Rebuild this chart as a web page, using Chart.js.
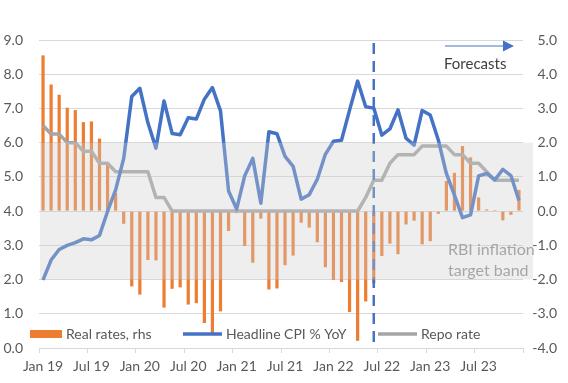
<!DOCTYPE html>
<html>
<head>
<meta charset="utf-8">
<script src="https://cdn.jsdelivr.net/npm/chart.js@4.4.1/dist/chart.umd.min.js"></script>
<style>
  html, body { margin: 0; padding: 0; background: #fff; }
  #wrap { width: 568px; height: 383px; }
</style>
</head>
<body>
<div id="wrap"><canvas id="chart" width="568" height="383"></canvas></div>
<script>
// month categories, Jan 19 .. Dec 23
const months = [
  "Jan 19","Feb 19","Mar 19","Apr 19","May 19","Jun 19","Jul 19","Aug 19","Sep 19","Oct 19","Nov 19","Dec 19",
  "Jan 20","Feb 20","Mar 20","Apr 20","May 20","Jun 20","Jul 20","Aug 20","Sep 20","Oct 20","Nov 20","Dec 20",
  "Jan 21","Feb 21","Mar 21","Apr 21","May 21","Jun 21","Jul 21","Aug 21","Sep 21","Oct 21","Nov 21","Dec 21",
  "Jan 22","Feb 22","Mar 22","Apr 22","May 22","Jun 22","Jul 22","Aug 22","Sep 22","Oct 22","Nov 22","Dec 22",
  "Jan 23","Feb 23","Mar 23","Apr 23","May 23","Jun 23","Jul 23","Aug 23","Sep 23","Oct 23","Nov 23","Dec 23"
];

// real rates, rhs (%)
const realRates = [
  4.55, 3.70, 3.40, 3.02, 2.95, 2.60, 2.62, 2.12, 1.41, 0.53, -0.37, -2.20,
  -2.44, -1.43, -1.44, -2.82, -2.27, -2.23, -2.73, -2.69, -3.27, -3.60, -2.93, -0.58,
  -0.06, -1.02, -1.51, -0.22, -2.29, -2.26, -1.58, -1.30, -0.34, -0.48, -0.91, -1.64,
  -2.01, -2.07, -2.95, -3.79, -2.64, -2.11, -1.31, -0.95, -1.26, -0.39, -0.28, -0.97,
  -0.88, -0.08, 0.88, 1.12, 1.90, 1.57, 0.40, 0.05, 0.03, -0.27, -0.11, 0.62
];

// headline CPI % YoY
const cpi = [
  1.99, 2.57, 2.88, 3.00, 3.08, 3.19, 3.16, 3.29, 3.99, 4.62, 5.54, 7.35,
  7.59, 6.58, 5.84, 7.22, 6.27, 6.23, 6.73, 6.69, 7.27, 7.61, 6.93, 4.59,
  4.06, 5.03, 5.54, 4.23, 6.32, 6.26, 5.60, 5.31, 4.35, 4.48, 4.93, 5.66,
  6.04, 6.07, 6.95, 7.80, 7.05, 7.01, 6.22, 6.40, 6.96, 6.13, 5.93, 6.94,
  6.81, 6.08, 5.10, 4.47, 3.81, 3.89, 5.03, 5.10, 4.91, 5.22, 5.04, 4.31
];

// repo rate
const repo = [
  6.50, 6.25, 6.25, 6.00, 6.00, 5.75, 5.75, 5.40, 5.40, 5.15, 5.15, 5.15,
  5.15, 5.15, 4.40, 4.40, 4.00, 4.00, 4.00, 4.00, 4.00, 4.00, 4.00, 4.00,
  4.00, 4.00, 4.00, 4.00, 4.00, 4.00, 4.00, 4.00, 4.00, 4.00, 4.00, 4.00,
  4.00, 4.00, 4.00, 4.00, 4.40, 4.90, 4.90, 5.40, 5.65, 5.65, 5.65, 5.90,
  5.90, 5.90, 5.90, 5.65, 5.65, 5.40, 5.40, 5.15, 4.90, 4.90, 4.90, 4.90
];

const forecastFrom = "Jun 22";
const targetBand = [2, 6]; // RBI band, lhs

const FONT = "Lato, 'Open Sans', sans-serif";
const TXT = "#595959";
const ORANGE = "#ED7D31", BLUE = "#4472C4", GREY = "#A5A5A5";

// band overlay, forecast marker and notes
const extras = {
  id: "extras",
  afterDatasetsDraw(chart) {
    const { ctx, chartArea: a, scales } = chart;
    const y = scales.y;
    ctx.save();
    // forecast divider
    const fx = scales.x.getPixelForValue(months.indexOf(forecastFrom));
    ctx.strokeStyle = BLUE;
    ctx.lineWidth = 2.5;
    ctx.setLineDash([11, 7]);
    ctx.beginPath();
    ctx.moveTo(fx, a.top + 3);
    ctx.lineTo(fx, a.bottom);
    ctx.stroke();
    ctx.setLineDash([]);
    // inflation target band
    const yTop = y.getPixelForValue(targetBand[1]);
    const yBot = y.getPixelForValue(targetBand[0]);
    ctx.fillStyle = "rgba(205,205,205,0.35)";
    ctx.fillRect(a.left + 1, yTop, a.right + 10 - a.left - 1, yBot - yTop);
    ctx.fillStyle = "#A6A6A6";
    ctx.font = "16px " + FONT;
    ctx.textBaseline = "middle";
    ctx.textAlign = "left";
    ctx.fillText("RBI inflation", 448, 250);
    ctx.fillText("target band", 448, 271);
    // forecasts arrow
    ctx.strokeStyle = BLUE;
    ctx.fillStyle = BLUE;
    ctx.lineWidth = 1;
    ctx.beginPath();
    ctx.moveTo(445, 46);
    ctx.lineTo(505, 46);
    ctx.stroke();
    ctx.beginPath();
    ctx.moveTo(503, 40.5);
    ctx.lineTo(514, 46);
    ctx.lineTo(503, 51.5);
    ctx.closePath();
    ctx.fill();
    ctx.fillStyle = "#404040";
    ctx.font = "15px " + FONT;
    ctx.fillText("Forecasts", 444, 64);
    ctx.restore();
  },
  afterDraw(chart) {
    // legend inside the plot, bottom row
    const { ctx } = chart;
    const xs = [30, 183, 378];
    const ly = 334;
    ctx.save();
    ctx.font = "14px " + FONT;
    ctx.textBaseline = "middle";
    ctx.textAlign = "left";
    chart.data.datasets.forEach((ds, i) => {
      const x = xs[i];
      if (ds.type === "bar") {
        ctx.fillStyle = ds.backgroundColor;
        ctx.fillRect(x, ly - 4, 32, 8);
        ctx.fillStyle = TXT;
        ctx.fillText(ds.label, x + 36, ly);
      } else {
        ctx.strokeStyle = ds.borderColor;
        ctx.lineWidth = 3.5;
        ctx.beginPath();
        ctx.moveTo(x, ly);
        ctx.lineTo(x + 39, ly);
        ctx.stroke();
        ctx.fillStyle = TXT;
        ctx.fillText(ds.label, x + 43, ly);
      }
    });
    ctx.restore();
  }
};

new Chart(document.getElementById("chart"), {
  data: {
    labels: months,
    datasets: [
      {
        type: "bar",
        label: "Real rates, rhs",
        data: realRates,
        yAxisID: "y2",
        backgroundColor: ORANGE,
        categoryPercentage: 1,
        barPercentage: 0.4,
        order: 3
      },
      {
        type: "line",
        label: "Headline CPI % YoY",
        data: cpi,
        yAxisID: "y",
        borderColor: BLUE,
        borderWidth: 3.5,
        pointRadius: 0,
        tension: 0,
        borderJoinStyle: "round",
        order: 1
      },
      {
        type: "line",
        label: "Repo rate",
        data: repo,
        yAxisID: "y",
        borderColor: GREY,
        borderWidth: 3.5,
        pointRadius: 0,
        tension: 0,
        borderJoinStyle: "round",
        order: 2
      }
    ]
  },
  options: {
    responsive: false,
    animation: false,
    devicePixelRatio: 1,
    layout: { padding: { top: 40, left: 0, right: 11, bottom: 0 } },
    plugins: { legend: { display: false }, tooltip: { enabled: false } },
    scales: {
      x: {
        type: "category",
        offset: true,
        grid: {
          offset: true,
          drawOnChartArea: false,
          tickLength: 5,
          color: c => (c.index === undefined || c.index % 6 === 0) ? "#D9D9D9" : "rgba(0,0,0,0)"
        },
        border: { color: "#D9D9D9" },
        ticks: {
          autoSkip: false,
          maxRotation: 0,
          padding: 5,
          color: TXT,
          font: { family: FONT, size: 14 },
          callback: (v, i) => (i % 6 === 0 ? months[i] : "")
        },
        afterFit: s => { s.height = 35; }
      },
      y: {
        position: "left",
        min: 0,
        max: 9,
        grid: { color: "#D9D9D9", drawTicks: false },
        border: { display: false },
        ticks: {
          stepSize: 1,
          padding: 16,
          color: TXT,
          font: { family: FONT, size: 14 },
          callback: v => v.toFixed(1)
        },
        afterFit: s => { s.width = 39; }
      },
      y2: {
        position: "right",
        min: -4,
        max: 5,
        grid: { drawOnChartArea: false, drawTicks: false },
        border: { display: false },
        ticks: {
          stepSize: 1,
          crossAlign: "far",
          color: TXT,
          font: { family: FONT, size: 14 },
          callback: v => v.toFixed(1)
        },
        afterFit: s => { s.width = 34; }
      }
    }
  },
  plugins: [extras]
});
</script>
</body>
</html>
